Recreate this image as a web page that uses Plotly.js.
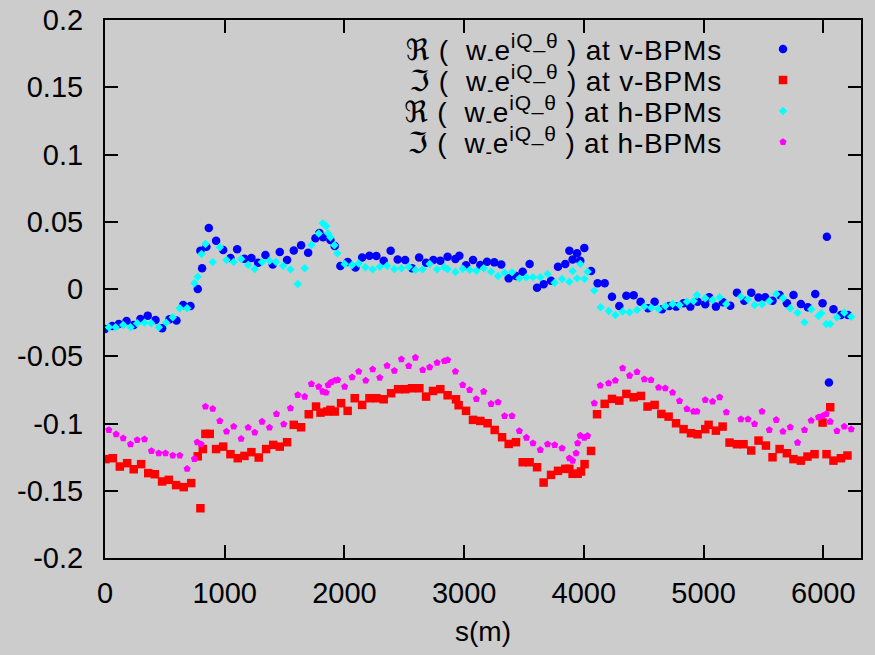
<!DOCTYPE html>
<html>
<head>
<meta charset="utf-8">
<script src="https://cdn.plot.ly/plotly-3.0.1.min.js"></script>
<style>html,body{margin:0;padding:0;background:#cccccc;}</style>
</head>
<body>
<div id="chart" style="width:875px;height:655px;"></div>
<script>
// ---- data ----
const reVs = [0,60,115,180,240,296,357,422,477,539,597,653,714,775,811,797,847,867,928,987,1048,1104,1165,1223,1279,1340,1401,1460,1521,1577,1638,1697,1758,1791,1822,1883,1919,1966,2027,2092,2148,2209,2267,2328,2386,2445,2507,2565,2624,2682,2743,2801,2862,2927,2960,3016,3074,3135,3191,3252,3310,3372,3433,3489,3547,3609,3664,3726,3784,3845,3879,3906,3943,3970,4004,4060,4115,4174,4235,4296,4355,4416,4474,4536,4591,4653,4714,4772,4833,4889,4950,5014,5047,5103,5162,5223,5279,5340,5398,5459,5515,5576,5635,5696,5751,5813,5871,5933,5994,6030,6047,6085,6147,6206];
const reVv = [-0.0297,-0.0275,-0.026,-0.0238,-0.0267,-0.0223,-0.0198,-0.023,-0.0292,-0.0225,-0.0235,-0.0119,-0.0126,0.0,0.0154,0.0285,0.0314,0.0453,0.0359,0.029,0.023,0.0295,0.0225,0.023,0.0196,0.0253,0.0183,0.0275,0.0215,0.0287,0.0325,0.027,0.0377,0.0416,0.0384,0.0364,0.032,0.0171,0.02,0.016,0.0235,0.0248,0.0245,0.021,0.0285,0.022,0.0215,0.0154,0.0235,0.0196,0.0215,0.021,0.024,0.0223,0.0248,0.0176,0.0215,0.0178,0.0203,0.0198,0.0183,0.0079,0.0097,0.0129,0.0186,0.001,0.0035,0.0062,0.0166,0.0186,0.0285,0.022,0.0265,0.021,0.0305,0.0134,0.0042,0.0042,-0.0057,-0.0126,-0.005,-0.0047,-0.0094,-0.0143,-0.0094,-0.0151,-0.0126,-0.0131,-0.0106,-0.0131,-0.0094,-0.0114,-0.0062,-0.0131,-0.0099,-0.0124,-0.0027,-0.0087,-0.0027,-0.0064,-0.0062,-0.0087,-0.0045,-0.0106,-0.0045,-0.0111,-0.0136,-0.0037,-0.0106,0.0389,-0.0696,-0.0151,-0.0193,-0.0193];

const imVs = [4,65,124,185,240,302,361,416,477,533,594,658,720,775,797,817,839,875,928,987,1048,1109,1165,1223,1284,1346,1405,1460,1521,1577,1638,1702,1763,1800,1855,1883,1919,1972,2027,2086,2148,2209,2267,2328,2390,2448,2509,2565,2626,2682,2740,2801,2862,2932,2954,3016,3074,3135,3196,3255,3317,3372,3433,3489,3547,3609,3664,3726,3784,3845,3879,3906,3948,3976,4006,4060,4110,4174,4235,4296,4355,4416,4477,4532,4591,4647,4708,4770,4833,4895,4950,5014,5042,5103,5159,5217,5279,5334,5398,5459,5521,5576,5635,5696,5751,5813,5868,5927,5994,6027,6058,6085,6147,6202];
const imVv = [-0.1265,-0.1258,-0.132,-0.1295,-0.134,-0.1302,-0.1369,-0.1377,-0.1431,-0.1419,-0.1458,-0.1473,-0.1443,-0.1244,-0.163,-0.119,-0.1077,-0.1077,-0.119,-0.1172,-0.1228,-0.1258,-0.1241,-0.1213,-0.1253,-0.119,-0.1159,-0.1172,-0.1139,-0.101,-0.1028,-0.0931,-0.0874,-0.0919,-0.0911,-0.0899,-0.0911,-0.0849,-0.0906,-0.0812,-0.0862,-0.0812,-0.0812,-0.082,-0.0775,-0.0745,-0.0745,-0.0738,-0.0738,-0.08,-0.0758,-0.0745,-0.079,-0.082,-0.0864,-0.0906,-0.0973,-0.0981,-0.0998,-0.1048,-0.1102,-0.1152,-0.1139,-0.1288,-0.1288,-0.1325,-0.1439,-0.1382,-0.1352,-0.1337,-0.1337,-0.1374,-0.1374,-0.1357,-0.1302,-0.1204,-0.0931,-0.0854,-0.0817,-0.083,-0.078,-0.0805,-0.0795,-0.0874,-0.0862,-0.0929,-0.0949,-0.0998,-0.1042,-0.1072,-0.108,-0.1042,-0.101,-0.1053,-0.1023,-0.1142,-0.1154,-0.1154,-0.1201,-0.1127,-0.1164,-0.1251,-0.119,-0.1221,-0.1265,-0.1276,-0.1246,-0.1228,-0.0993,-0.1228,-0.0879,-0.1276,-0.1258,-0.1238];

const reHs = [32,88,152,213,269,330,386,449,511,566,625,686,747,775,806,839,900,959,1015,1075,1137,1196,1251,1312,1374,1429,1488,1549,1610,1668,1724,1785,1819,1847,1864,1883,1916,1941,2002,2064,2119,2175,2236,2295,2356,2417,2476,2537,2593,2654,2712,2774,2835,2862,2927,2988,3046,3102,3163,3225,3283,3338,3400,3461,3520,3575,3636,3697,3756,3818,3879,3906,3943,3970,4004,4031,4087,4140,4207,4263,4324,4382,4444,4505,4563,4624,4680,4741,4799,4861,4916,4945,5014,5075,5134,5190,5312,5371,5426,5488,5549,5607,5663,5724,5785,5843,5899,5960,5983,6025,6058,6114,6175,6233];
const reHv = [-0.0285,-0.0285,-0.0267,-0.0285,-0.0255,-0.025,-0.0255,-0.0285,-0.025,-0.021,-0.0143,-0.0143,0.0042,0.0091,0.026,0.0334,0.02,0.031,0.0215,0.02,0.0223,0.0178,0.0149,0.02,0.021,0.02,0.0173,0.0146,0.0037,0.0154,0.0327,0.0413,0.0488,0.0468,0.0413,0.0384,0.0325,0.0265,0.0186,0.0178,0.019,0.0161,0.0146,0.0166,0.0173,0.0149,0.0154,0.0166,0.0141,0.0146,0.0186,0.0146,0.0161,0.0149,0.0126,0.0151,0.0141,0.0136,0.0154,0.0129,0.0097,0.0121,0.0124,0.0079,0.0087,0.0087,0.0087,0.0111,0.0047,0.0074,0.0054,0.0134,0.0079,0.0186,0.0074,0.0129,-0.0012,-0.0136,-0.0163,-0.0193,-0.0168,-0.0173,-0.0156,-0.0131,-0.0139,-0.0149,-0.0126,-0.0111,-0.0119,-0.0094,-0.0089,-0.0045,-0.0069,-0.0082,-0.0062,-0.0111,-0.0057,-0.0077,-0.0119,-0.0114,-0.0089,-0.0037,-0.0069,-0.0143,-0.0176,-0.0248,-0.0151,-0.0201,-0.0181,-0.026,-0.026,-0.021,-0.0176,-0.0206];

const imHs = [32,93,152,213,269,330,388,449,505,566,625,686,747,770,803,839,900,959,1015,1075,1137,1196,1251,1312,1374,1432,1493,1549,1610,1668,1724,1785,1819,1847,1864,1889,1919,1944,2002,2064,2119,2178,2236,2295,2356,2417,2476,2537,2593,2654,2712,2774,2835,2862,2927,2988,3046,3102,3163,3225,3283,3338,3400,3461,3520,3575,3636,3697,3756,3818,3879,3906,3935,3948,3970,4004,4031,4087,4137,4207,4263,4324,4382,4444,4505,4561,4624,4680,4741,4799,4861,4916,4945,5014,5075,5134,5190,5312,5371,5426,5488,5549,5607,5663,5724,5785,5843,5899,5960,5994,6025,6058,6114,6175,6233];
const imHv = [-0.1048,-0.108,-0.1109,-0.1154,-0.1122,-0.1117,-0.1204,-0.1221,-0.1221,-0.1238,-0.1238,-0.1337,-0.1263,-0.1139,-0.1154,-0.0874,-0.0891,-0.0981,-0.106,-0.1023,-0.1114,-0.103,-0.1067,-0.0986,-0.103,-0.0929,-0.1005,-0.0886,-0.0788,-0.08,-0.0706,-0.0726,-0.0763,-0.077,-0.0713,-0.0693,-0.0681,-0.0676,-0.0726,-0.0656,-0.0614,-0.0681,-0.0597,-0.0659,-0.057,-0.0607,-0.0522,-0.0572,-0.051,-0.0602,-0.0582,-0.0548,-0.0535,-0.0527,-0.0614,-0.0713,-0.075,-0.0817,-0.0763,-0.0854,-0.0842,-0.0944,-0.0944,-0.1055,-0.1105,-0.1147,-0.1196,-0.1154,-0.1159,-0.1184,-0.1258,-0.1276,-0.1221,-0.1146,-0.109,-0.1105,-0.1092,-0.0849,-0.0718,-0.0701,-0.0681,-0.0589,-0.0644,-0.0617,-0.0671,-0.0676,-0.0733,-0.0738,-0.077,-0.0832,-0.0892,-0.0911,-0.0911,-0.0825,-0.0837,-0.0805,-0.0916,-0.0968,-0.0968,-0.1003,-0.0911,-0.1048,-0.0973,-0.106,-0.1028,-0.1142,-0.1048,-0.0978,-0.0953,-0.0944,-0.0929,-0.0986,-0.1055,-0.1023,-0.1042];

const seriesNames = [
  "<span style='font-size:29px'>ℜ</span> (\u00a0 w<sub>-</sub>e<sup><span style='font-size:21px'>iQ_θ</span></sup> ) at v-BPMs",
  "<span style='font-size:29px'>ℑ</span> (\u00a0 w<sub>-</sub>e<sup><span style='font-size:21px'>iQ_θ</span></sup> ) at v-BPMs",
  "<span style='font-size:29px'>ℜ</span> (\u00a0 w<sub>-</sub>e<sup><span style='font-size:21px'>iQ_θ</span></sup> ) at h-BPMs",
  "<span style='font-size:29px'>ℑ</span> (\u00a0 w<sub>-</sub>e<sup><span style='font-size:21px'>iQ_θ</span></sup> ) at h-BPMs"
];
const xTickVals = [0,1000,2000,3000,4000,5000,6000];
const xTickText = ["0","1000","2000","3000","4000","5000","6000"];
const yTickVals = [-0.2,-0.15,-0.1,-0.05,0,0.05,0.1,0.15,0.2];
const yTickText = ["-0.2","-0.15","-0.1","-0.05","0","0.05","0.1","0.15","0.2"];
const xTitle = "s(m)";

// ---- styles ----
const FONT = "Liberation Sans, Arial, DejaVu Sans, sans-serif";
const LEG_FONT = "Liberation Sans, DejaVu Sans, sans-serif";
function mk(s, v, name, color, symbol, size) {
  return {x: s, y: v, name: name, type: 'scatter', mode: 'markers',
    marker: {color: color, symbol: symbol, size: size, line: {width: 0}},
    hoverinfo: 'x+y'};
}
const data = [
  mk(reVs, reVv, seriesNames[0], '#0000ff', 'circle', 8.5),
  mk(imVs, imVv, seriesNames[1], '#ff0000', 'square', 8.5),
  mk(reHs, reHv, seriesNames[2], '#00ffff', 'diamond', 6.5),
  mk(imHs, imHv, seriesNames[3], '#ff00ff', 'pentagon', 7.5)
];
const axisCommon = {
  showline: true, linecolor: '#000', linewidth: 2, mirror: 'ticks',
  ticks: 'inside', ticklen: 13, tickwidth: 2, tickcolor: '#000',
  showgrid: false, zeroline: false,
  tickfont: {family: FONT, size: 29, color: '#000'}
};
const layout = {
  width: 875, height: 655,
  paper_bgcolor: '#cccccc', plot_bgcolor: '#cccccc',
  margin: {l: 105, r: 14, t: 20, b: 97, pad: 0},
  showlegend: true,
  legend: {x: 0.3, y: 1, xanchor: 'left', yanchor: 'top',
    bgcolor: 'rgba(0,0,0,0)', borderwidth: 0,
    font: {family: LEG_FONT, size: 28, color: '#000'}},
  xaxis: Object.assign({}, axisCommon, {
    range: [0, 6315], tickmode: 'array', tickvals: xTickVals, ticktext: xTickText,
    ticklabelstandoff: 8,
    title: {text: xTitle, font: {family: FONT, size: 28, color: '#000'}, standoff: 14}
  }),
  yaxis: Object.assign({}, axisCommon, {
    range: [-0.2, 0.2], tickmode: 'array', tickvals: yTickVals, ticktext: yTickText,
    ticklabelstandoff: 14
  })
};

// Legend laid out like the original key: text right-justified, sample to its right.
const LEG_TEXT_RIGHT = 722;
const LEG_SYM_X = 783;
const LEG_ROW_Y = [49, 80, 111, 142];
function fixLegend(gd) {
  gd.querySelectorAll('g.legend [clip-path]').forEach(e => e.removeAttribute('clip-path'));
  const groups = gd.querySelectorAll('g.legend g.traces');
  groups.forEach((g, i) => {
    const pm = g.parentNode.getScreenCTM();
    g.setAttribute('transform', 'translate(0,' + (LEG_ROW_Y[i] - pm.f) + ')');
    const m = g.getScreenCTM();
    const txt = g.querySelector('text.legendtext');
    if (txt) {
      txt.style.letterSpacing = '0.8px';
      txt.setAttribute('text-anchor', 'end');
      txt.setAttribute('x', LEG_TEXT_RIGHT - m.e);
      txt.querySelectorAll('tspan.line').forEach(t => t.setAttribute('x', LEG_TEXT_RIGHT - m.e));
    }
    g.querySelectorAll('path.scatterpts').forEach(p =>
      p.setAttribute('transform', 'translate(' + (LEG_SYM_X - m.e) + ',0)'));
  });
}
const gd = document.getElementById('chart');
Plotly.newPlot(gd, data, layout, {displayModeBar: false, staticPlot: true}).then(fixLegend);
</script>
</body>
</html>
